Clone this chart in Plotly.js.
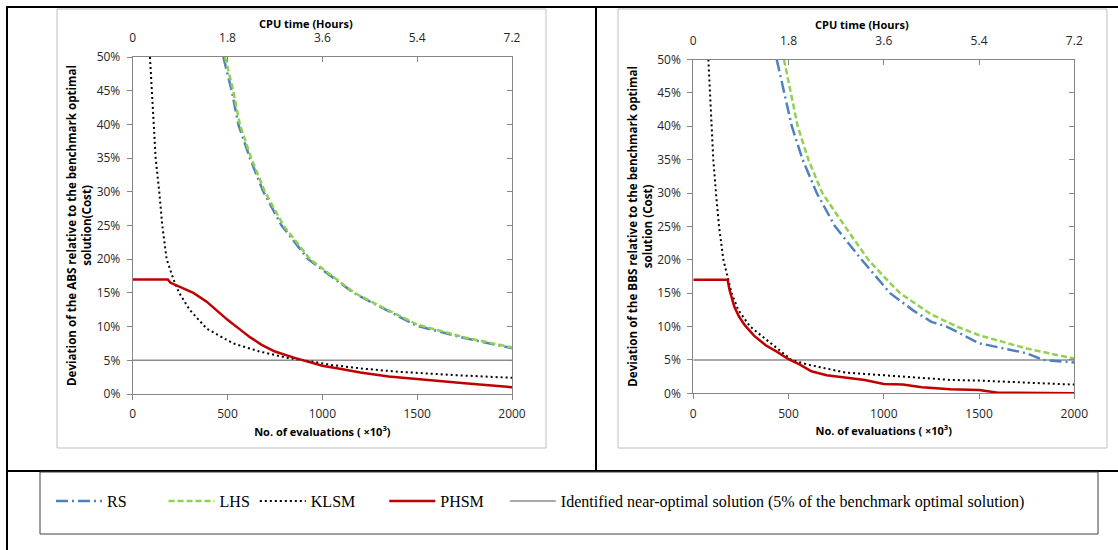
<!DOCTYPE html>
<html><head><meta charset="utf-8">
<script src="https://cdn.plot.ly/plotly-3.0.1.min.js"></script>
<style>html,body{margin:0;padding:0;background:#fff}</style>
</head><body><div id="chart" style="width:1118px;height:550px"></div>
<script>
const W = 1118, H = 550;

// ---------- tick labels ----------
const evalTicks = [0, 500, 1000, 1500, 2000];
const cpuTicks = [0, 1.8, 3.6, 5.4, 7.2];
const cpuTickText = ["0", "1.8", "3.6", "5.4", "7.2"];
const pctTicks = [0, 5, 10, 15, 20, 25, 30, 35, 40, 45, 50];

// ---------- Left panel (ABS) ----------
const absRsX  = [478, 500, 522, 557, 618, 689, 785, 925, 1000, 1165, 1300, 1500, 1750, 2000];
const absRsY  = [50, 47.3, 45, 40, 35, 30, 25, 20, 18.4, 15, 13.0, 10.1, 8.3, 6.8];
const absLhsX = [487, 530, 565, 625, 697, 795, 935, 1000, 1170, 1300, 1500, 1750, 2000];
const absLhsY = [50, 45, 40, 35, 30, 25, 20, 18.6, 15, 13.1, 10.3, 8.4, 6.9];
const absKlsmX = [91, 100, 109, 121, 140, 156, 179, 215, 245, 300, 390, 530, 670, 810, 950, 1050, 1200, 1400, 1700, 2000];
const absKlsmY = [50, 45, 40, 35, 30, 25, 20, 17, 15, 12.5, 9.7, 7.5, 6.3, 5.4, 4.8, 4.3, 3.8, 3.3, 2.8, 2.4];
const absPhsmX = [0, 185, 200, 250, 320, 390, 450, 500, 560, 620, 680, 750, 850, 930, 1000, 1100, 1200, 1350, 1500, 1750, 2000];
const absPhsmY = [17, 17, 16.5, 15.9, 15, 13.7, 12.2, 11, 9.7, 8.4, 7.3, 6.3, 5.4, 4.8, 4.2, 3.7, 3.2, 2.6, 2.2, 1.6, 1.0];

// ---------- Right panel (BBS) ----------
const bbsRsX  = [438, 476, 517, 574, 648, 744, 884, 1033, 1150, 1250, 1330, 1500, 1750, 1837, 2000];
const bbsRsY  = [50, 45, 40, 35, 30, 25, 20, 15, 12.5, 10.7, 10, 7.5, 6.0, 5.0, 4.6];
const bbsLhsX = [476, 511, 548, 604, 677, 796, 919, 1000, 1085, 1250, 1383, 1500, 1750, 2000];
const bbsLhsY = [50, 45, 40, 35, 30, 25, 20, 17.5, 15, 11.8, 10, 8.7, 6.7, 5.2];
const bbsKlsmX = [79, 88, 93, 105, 119, 135, 158, 184, 201, 236, 298, 385, 472, 516, 600, 700, 800, 900, 1000, 1200, 1350, 1500, 1750, 2000];
const bbsKlsmY = [50, 45, 40, 35, 30, 25, 20, 17, 15, 12.5, 10, 8, 6, 5, 4.3, 3.7, 3.1, 2.9, 2.7, 2.3, 2.0, 1.9, 1.6, 1.3];
const bbsPhsmX = [0, 180, 190, 200, 215, 240, 270, 320, 380, 440, 500, 560, 620, 700, 800, 900, 1000, 1100, 1200, 1350, 1500, 1600, 2000];
const bbsPhsmY = [17, 17, 15.5, 14.5, 13, 11.5, 10.2, 8.6, 7.2, 6.2, 5.1, 4.3, 3.3, 2.7, 2.3, 2.0, 1.4, 1.3, 0.9, 0.6, 0.5, 0.1, 0.0];

// near-optimal threshold (5%)
const nearOptX = [0, 2000];
const nearOptY = [5, 5];

// series names
const seriesNames = ["RS", "LHS", "KLSM", "PHSM", "Identified near-optimal solution (5% of the benchmark optimal solution)"];

// ---------- styles ----------
const styles = [
  {color: "#4F81BD", width: 2.5, dash: "12px,4px,2px,4px"},
  {color: "#92D050", width: 2.5, dash: "6px,3px"},
  {color: "#000000", width: 2, dash: "2px,3px"},
  {color: "#C00000", width: 2.5, dash: "solid"},
  {color: "#8C8C8C", width: 1.5, dash: "solid"}
];
// legend spacing (non-breaking padding after each name)
const legendPad = [8, 0, 6, 4, 0];

function series(xs, ys, i, xa, ya, show) {
  return {x: xs, y: ys, type: "scatter", mode: "lines",
          name: seriesNames[i] + "\u00A0".repeat(legendPad[i]),
          line: Object.assign({}, styles[i]), xaxis: xa, yaxis: ya,
          showlegend: show, legendrank: i + 1, hoverinfo: "skip"};
}

const leftSets = [[absRsX, absRsY], [absLhsX, absLhsY], [absKlsmX, absKlsmY], [absPhsmX, absPhsmY], [nearOptX, nearOptY]];
const rightSets = [[bbsRsX, bbsRsY], [bbsLhsX, bbsLhsY], [bbsKlsmX, bbsKlsmY], [bbsPhsmX, bbsPhsmY], [nearOptX, nearOptY]];

const traces = [];
// draw order: threshold first, then series; left panel traces carry the legend
[4, 0, 1, 2, 3].forEach(i => traces.push(series(leftSets[i][0], leftSets[i][1], i, "x", "y", true)));
[4, 0, 1, 2, 3].forEach(i => traces.push(series(rightSets[i][0], rightSets[i][1], i, "x3", "y3", false)));

// invisible helper traces so the secondary (top/right) axes are drawn
traces.push({x: [cpuTicks[0], cpuTicks[cpuTicks.length-1]], y: [pctTicks[0], pctTicks[pctTicks.length-1]], xaxis: "x2", yaxis: "y2",
  type: "scatter", mode: "lines", line: {width: 0}, opacity: 0, showlegend: false, hoverinfo: "skip"});
traces.push({x: [cpuTicks[0], cpuTicks[cpuTicks.length-1]], y: [pctTicks[0], pctTicks[pctTicks.length-1]], xaxis: "x4", yaxis: "y4",
  type: "scatter", mode: "lines", line: {width: 0}, opacity: 0, showlegend: false, hoverinfo: "skip"});

const px = v => v / W;
const py = v => 1 - v / H;

const axisGray = "#868686";
const tickFont = {family: "Open Sans, sans-serif", size: 12, color: "#262626"};
const titleFont = {family: "Open Sans, sans-serif", size: 11, color: "#000", weight: 700};
const yTitleFont = {family: "Open Sans, sans-serif", size: 11.6, color: "#000", weight: 700};

function bottomX(domain, anchor) {
  return {domain: domain, anchor: anchor, range: [0, 2000], tickvals: evalTicks, ticktext: evalTicks.map(String),
    showline: true, linecolor: axisGray, linewidth: 1, ticks: "outside", ticklen: 5, tickcolor: axisGray,
    showgrid: false, zeroline: false, tickfont: tickFont, ticklabelstandoff: 4,
    title: {text: "No. of evaluations ( \u00D710<sup>3</sup>)", font: titleFont, standoff: 6}};
}
function topX(overlay, anchor) {
  return {overlaying: overlay, anchor: anchor, side: "top", range: [0, 7.2], tickvals: cpuTicks, ticktext: cpuTickText,
    showline: true, linecolor: axisGray, linewidth: 1, ticks: "inside", ticklen: 5, tickcolor: axisGray,
    showgrid: false, zeroline: false, tickfont: tickFont, ticklabelstandoff: 9};
}
function leftY(domain, anchor, title) {
  return {domain: domain, anchor: anchor, range: [0, 50], tickvals: pctTicks, ticktext: pctTicks.map(v => v + "%"),
    showline: true, linecolor: axisGray, linewidth: 1, ticks: "outside", ticklen: 5, tickcolor: axisGray,
    showgrid: false, zeroline: false, tickfont: tickFont, ticklabelstandoff: 4,
    title: {text: title, font: yTitleFont, standoff: 2}};
}
function rightY(overlay, anchor) {
  return {overlaying: overlay, anchor: anchor, side: "right", range: [0, 50], tickvals: pctTicks,
    showticklabels: false, showline: true, linecolor: axisGray, linewidth: 1, ticks: "inside", ticklen: 5,
    tickcolor: axisGray, showgrid: false, zeroline: false};
}

const leftXDom = [px(132.7), px(512)];
const leftYDom = [py(394), py(57)];
const rightXDom = [px(693.3), px(1074.3)];
const rightYDom = [py(393.3), py(59.5)];

const black = {color: "#000", width: 2};
const shapes = [
  // table borders
  {type: "line", xref: "paper", yref: "paper", x0: px(7), x1: px(1118), y0: py(7), y1: py(7), line: black},
  {type: "line", xref: "paper", yref: "paper", x0: px(7), x1: px(7), y0: py(6), y1: py(550), line: black},
  {type: "line", xref: "paper", yref: "paper", x0: px(596), x1: px(596), y0: py(7), y1: py(471), line: black},
  {type: "line", xref: "paper", yref: "paper", x0: px(7), x1: px(1118), y0: py(471), y1: py(471), line: black},
  // chart area frames
  {type: "rect", xref: "paper", yref: "paper", x0: px(57), x1: px(546), y0: py(9), y1: py(448), line: {color: "#BFBFBF", width: 1}},
  {type: "rect", xref: "paper", yref: "paper", x0: px(618), x1: px(1107), y0: py(9), y1: py(448), line: {color: "#BFBFBF", width: 1}},
  // legend frame
  {type: "rect", xref: "paper", yref: "paper", x0: px(40), x1: px(1098), y0: py(472), y1: py(534), line: {color: "#404040", width: 1}}
];

const annotations = [
  {text: "CPU time (Hours)", xref: "paper", yref: "paper", x: px(306), y: py(23), xanchor: "center", yanchor: "middle",
   showarrow: false, font: titleFont},
  {text: "CPU time (Hours)", xref: "paper", yref: "paper", x: px(862), y: py(24), xanchor: "center", yanchor: "middle",
   showarrow: false, font: titleFont}
];

const layout = {
  width: W, height: H, margin: {l: 0, r: 0, t: 0, b: 0}, paper_bgcolor: "#fff", plot_bgcolor: "rgba(0,0,0,0)",
  showlegend: true,
  legend: {orientation: "h", x: px(51), y: py(484), xanchor: "left", yanchor: "top",
    font: {family: "Liberation Serif, Times New Roman, serif", size: 16, color: "#000"},
    bgcolor: "rgba(0,0,0,0)", borderwidth: 0, itemwidth: 46,
    traceorder: "normal", itemclick: false},
  xaxis: bottomX(leftXDom, "y"),
  yaxis: leftY(leftYDom, "x", "Deviation of the ABS relative to the benchmark optimal<br>solution(Cost)"),
  xaxis2: topX("x", "y"),
  yaxis2: rightY("y", "x"),
  xaxis3: bottomX(rightXDom, "y3"),
  yaxis3: leftY(rightYDom, "x3", "Deviation of the BBS relative to the benchmark optimal<br>solution (Cost)"),
  xaxis4: topX("x3", "y3"),
  yaxis4: rightY("y3", "x3"),
  shapes: shapes,
  annotations: annotations
};

Plotly.newPlot("chart", traces, layout, {staticPlot: true, displayModeBar: false});
</script></body></html>
